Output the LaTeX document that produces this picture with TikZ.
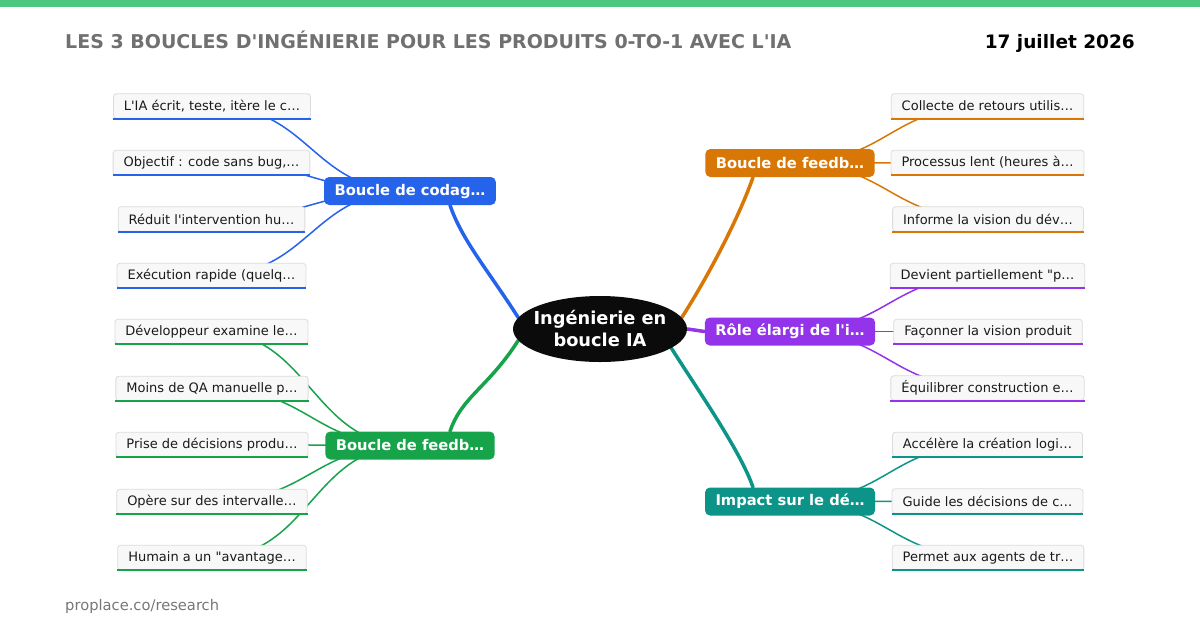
\documentclass[tikz,border=0pt]{standalone}
\usepackage{fontspec}
\setmainfont{DejaVu Sans}[Ligatures=TeXOff]
\usetikzlibrary{shapes.geometric,calc,backgrounds}
\definecolor{cblue}{HTML}{2563EB}
\definecolor{cgreen}{HTML}{16A34A}
\definecolor{corange}{HTML}{D97706}
\definecolor{cpurple}{HTML}{9333EA}
\definecolor{cteal}{HTML}{0D9488}
\definecolor{topbar}{HTML}{4CC77F}
\definecolor{titlegray}{HTML}{707070}
\definecolor{footgray}{HTML}{777777}
\definecolor{leaffill}{HTML}{F8F8F8}
\definecolor{leafdraw}{HTML}{DCDCDC}
\definecolor{leaftext}{HTML}{1A1A1A}
\definecolor{centerfill}{HTML}{0B0B0B}
\tikzset{
 leaf/.style={draw=leafdraw, fill=leaffill, rounded corners=3pt, line width=0.8pt, inner xsep=10.5pt, inner ysep=0pt, minimum height=24.5pt, text=leaftext, font=\fontsize{13}{15}\selectfont},
 branch/.style={fill=#1, rounded corners=5pt, inner xsep=10.5pt, inner ysep=0pt, minimum height=28pt, text=white, font=\bfseries\fontsize{14.7}{17}\selectfont},
 hub/.style={ellipse, fill=centerfill, minimum width=174pt, minimum height=66pt, inner sep=-10pt, text=white, align=center, font=\bfseries\fontsize{17.8}{22}\selectfont},
 trunk/.style={draw=#1, line width=3.5pt, line cap=round},
 hcurve/.style={to path={let \p1=(\tikztostart), \p2=(\tikztotarget) in .. controls ({(\x1+\x2)/2},\y1) and ({(\x1+\x2)/2},\y2) .. (\tikztotarget)}},
 twig/.style={draw=#1, line width=1.5pt, hcurve},
 underl/.style={draw=#1, line width=2pt},
}
\newcommand\leafnode[5]{%
  \node[leaf] (#1) at (#2,#3) {#5};
  \draw[underl=#4] (#1.south west) -- (#1.south east);}
\begin{document}
\begin{tikzpicture}[x=1pt,y=-1pt]
\useasboundingbox (0,0) rectangle (1200,630);
% header / footer
\fill[topbar] (0,0) rectangle (1200,7);
\node[anchor=base west, inner sep=0pt, text=titlegray, font=\bfseries\fontsize{19}{21}\selectfont] (title) at (65,48) {LES 3 BOUCLES D'INGÉNIERIE POUR LES PRODUITS 0-TO-1 AVEC L'IA};
\node[anchor=base east, inner sep=0pt, text=black, font=\bfseries\fontsize{18.5}{20}\selectfont] (date) at (1135,48) {17 juillet 2026};
\node[anchor=base west, inner sep=0pt, text=footgray, font=\fontsize{14.7}{17}\selectfont] (foot) at (65,610) {proplace.co/research};
% hub and branches
\node[hub] (c) at (600,329) {Ingénierie en\\boucle IA};
\node[branch=cblue] (b1) at (410,191) {Boucle de codag…};
\node[branch=cgreen] (b2) at (410,445.5) {Boucle de feedb…};
\node[branch=corange] (b3) at (790,163) {Boucle de feedb…};
\node[branch=cpurple] (b4) at (790,331.5) {Rôle élargi de l'i…};
\node[branch=cteal] (b5) at (790,501.5) {Impact sur le dé…};
% leaves
\leafnode{l1}{212}{106}{cblue}{L'IA écrit, teste, itère le c…}
\leafnode{l2}{211.5}{162.5}{cblue}{Objectif : code sans bug,…}
\leafnode{l3}{211.5}{219}{cblue}{Réduit l'intervention hu…}
\leafnode{l4}{211.5}{275.5}{cblue}{Exécution rapide (quelq…}
\leafnode{l5}{211.5}{331.5}{cgreen}{Développeur examine le…}
\leafnode{l6}{212}{388.5}{cgreen}{Moins de QA manuelle p…}
\leafnode{l7}{212}{444.5}{cgreen}{Prise de décisions produ…}
\leafnode{l8}{212}{501.5}{cgreen}{Opère sur des intervalle…}
\leafnode{l9}{212}{557.5}{cgreen}{Humain a un "avantage…}
\leafnode{r1}{987.5}{106}{corange}{Collecte de retours utilis…}
\leafnode{r2}{987.5}{162.5}{corange}{Processus lent (heures à…}
\leafnode{r3}{988}{219}{corange}{Informe la vision du dév…}
\leafnode{r4}{987.5}{275.5}{cpurple}{Devient partiellement "p…}
\leafnode{r5}{988}{331.5}{cpurple}{Façonner la vision produit}
\leafnode{r6}{987.5}{388}{cpurple}{Équilibrer construction e…}
\leafnode{r7}{987.5}{444.5}{cteal}{Accélère la création logi…}
\leafnode{r8}{987.5}{501}{cteal}{Guide les décisions de c…}
\leafnode{r9}{988}{557.5}{cteal}{Permet aux agents de tr…}
% connectors behind
\begin{pgfonlayer}{background}
\fill[white] (0,0) rectangle (1200,630);
\draw[trunk=cblue] (c.172) .. controls +(-30,-47) and +(12,35) .. ([xshift=40pt]b1.south);
\draw[trunk=cgreen] (c.188) .. controls +(-30,47) and +(12,-35) .. ([xshift=40pt]b2.north);
\draw[trunk=corange] (c.8) .. controls +(30,-47) and +(-12,35) .. ([xshift=-37pt]b3.south);
\draw[trunk=cteal] (c.-15) .. controls +(30,47) and +(-12,-35) .. ([xshift=-37pt]b5.north);
\draw[trunk=cpurple] (c.east) -- (b4.west);
\foreach \l in {l1,l2,l3,l4} \draw[twig=cblue] (b1.center) to (\l.center);
\foreach \l in {l5,l6,l7,l8,l9} \draw[twig=cgreen] (b2.center) to (\l.center);
\foreach \l in {r1,r2,r3} \draw[twig=corange] (b3.center) to (\l.center);
\foreach \l in {r4,r5,r6} \draw[twig=cpurple] (b4.center) to (\l.center);
\foreach \l in {r7,r8,r9} \draw[twig=cteal] (b5.center) to (\l.center);
\end{pgfonlayer}
\end{tikzpicture}
\end{document}
